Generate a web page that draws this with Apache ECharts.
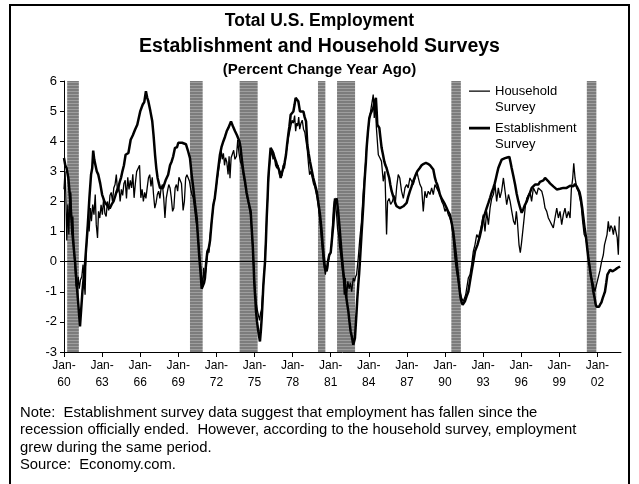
<!DOCTYPE html>
<html><head><meta charset="utf-8">
<script src="https://cdn.jsdelivr.net/npm/echarts@6/dist/echarts.min.js"></script>
<style>html,body{margin:0;padding:0;background:#fff}#c{width:639px;height:484px}</style>
</head><body><div id="c"></div>
<script>
// ---- data ----
const titleLines = ['Total U.S. Employment', 'Establishment and Household Surveys'];
const subtitle = '(Percent Change Year Ago)';
const noteLines = [
  'Note:  Establishment survey data suggest that employment has fallen since the',
  'recession officially ended.  However, according to the household survey, employment',
  'grew during the same period.',
  'Source:  Economy.com.'
];
const tickYears = [1960,1963,1966,1969,1972,1975,1978,1981,1984,1987,1990,1993,1996,1999,2002];
const yTicks = [-3,-2,-1,0,1,2,3,4,5,6];
const recessions = [[1960.25,1961.17],[1969.92,1970.92],[1973.83,1975.25],[1980.0,1980.58],[1981.5,1982.92],[1990.5,1991.25],[2001.17,2001.92]];
const seriesNames = ['Household', 'Establishment'];

const household = [
[1960.00,2.4],[1960.08,3.0],[1960.14,2.3],[1960.22,0.7],[1960.30,1.9],[1960.38,0.9],[1960.46,2.1],[1960.54,2.3],[1960.62,0.9],[1960.70,1.5],[1960.78,0.4],[1960.86,-0.1],[1960.95,-0.8],[1961.04,-0.9],[1961.12,-0.5],[1961.20,-0.9],[1961.30,-0.6],[1961.40,-0.5],[1961.50,-0.1],[1961.58,-0.6],[1961.66,-1.1],[1961.74,0.3],[1961.82,0.9],[1961.90,1.45],[1961.98,1.0],[1962.08,1.78],[1962.16,1.34],[1962.26,1.9],[1962.36,1.56],[1962.46,2.23],[1962.54,1.23],[1962.64,0.79],[1962.72,1.67],[1962.82,1.45],[1962.92,1.89],[1963.02,1.56],[1963.12,2.1],[1963.22,1.6],[1963.32,1.5],[1963.42,2.0],[1963.52,1.7],[1963.62,2.2],[1963.72,2.3],[1963.82,2.0],[1963.92,2.45],[1964.02,2.56],[1964.12,2.89],[1964.22,2.3],[1964.32,2.5],[1964.42,2.0],[1964.52,2.4],[1964.62,2.2],[1964.72,2.6],[1964.82,2.7],[1964.92,2.1],[1965.02,2.8],[1965.12,2.4],[1965.22,2.7],[1965.32,2.45],[1965.42,2.9],[1965.52,2.12],[1965.62,2.6],[1965.72,2.99],[1965.82,3.05],[1965.95,3.2],[1966.05,2.12],[1966.15,2.4],[1966.25,2.0],[1966.35,2.3],[1966.45,2.1],[1966.55,2.45],[1966.65,2.78],[1966.75,2.89],[1966.85,2.5],[1966.95,2.8],[1967.05,2.23],[1967.15,1.78],[1967.25,1.95],[1967.35,2.23],[1967.45,2.34],[1967.55,2.1],[1967.65,2.45],[1967.75,2.56],[1967.85,2.12],[1967.95,1.45],[1968.05,2.1],[1968.15,2.34],[1968.25,2.56],[1968.35,2.45],[1968.45,2.12],[1968.55,1.67],[1968.65,1.78],[1968.75,2.45],[1968.85,2.56],[1968.95,2.34],[1969.05,2.8],[1969.15,2.85],[1969.25,2.6],[1969.38,1.7],[1969.48,2.0],[1969.58,2.78],[1969.68,2.89],[1969.78,2.78],[1969.88,2.67],[1969.98,2.4],[1970.08,2.23],[1970.18,2.12],[1970.28,1.78],[1970.38,1.4],[1970.48,1.12],[1970.58,0.68],[1970.68,0.2],[1970.76,-0.17],[1970.84,-0.5],[1970.92,-0.83],[1971.00,-0.2],[1971.08,-0.6],[1971.16,-0.3],[1971.25,-0.28],[1971.34,0.39],[1971.42,0.3],[1971.52,0.9],[1971.62,1.3],[1971.72,1.7],[1971.82,2.0],[1971.92,2.3],[1972.02,2.6],[1972.12,2.9],[1972.22,3.2],[1972.30,3.38],[1972.38,3.71],[1972.46,3.4],[1972.55,3.6],[1972.64,3.2],[1972.72,3.45],[1972.82,3.3],[1972.92,2.9],[1973.00,3.5],[1973.07,2.77],[1973.16,3.45],[1973.26,3.4],[1973.36,3.7],[1973.46,3.4],[1973.58,3.5],[1973.68,4.04],[1973.78,3.6],[1973.90,3.3],[1974.00,3.2],[1974.12,2.9],[1974.25,2.6],[1974.38,2.2],[1974.50,2.0],[1974.62,1.7],[1974.72,1.5],[1974.80,0.9],[1974.88,0.3],[1974.96,-0.4],[1975.04,-0.9],[1975.12,-1.3],[1975.22,-1.6],[1975.32,-1.8],[1975.40,-1.95],[1975.48,-1.7],[1975.55,-1.6],[1975.62,-1.2],[1975.70,-0.8],[1975.78,-0.3],[1975.86,0.4],[1975.94,1.2],[1976.02,2.0],[1976.10,2.7],[1976.18,3.2],[1976.26,3.5],[1976.36,3.7],[1976.46,3.4],[1976.56,3.5],[1976.66,3.2],[1976.76,3.1],[1976.86,3.2],[1976.96,2.9],[1977.06,3.0],[1977.16,2.85],[1977.26,3.2],[1977.36,3.1],[1977.46,3.5],[1977.56,3.8],[1977.66,4.1],[1977.76,4.3],[1977.86,4.5],[1977.96,4.7],[1978.06,4.6],[1978.16,4.85],[1978.24,4.33],[1978.32,4.6],[1978.40,4.5],[1978.48,4.8],[1978.56,4.4],[1978.66,4.6],[1978.76,4.7],[1978.86,4.4],[1978.96,4.3],[1979.06,4.0],[1979.16,3.7],[1979.26,3.2],[1979.34,2.89],[1979.44,3.0],[1979.54,2.8],[1979.64,2.6],[1979.74,2.5],[1979.84,2.3],[1979.94,2.1],[1980.04,1.8],[1980.14,1.4],[1980.24,0.9],[1980.34,0.4],[1980.42,0.0],[1980.50,-0.2],[1980.58,-0.43],[1980.66,-0.15],[1980.74,-0.27],[1980.82,0.0],[1980.90,0.2],[1980.98,0.3],[1981.06,0.5],[1981.14,1.2],[1981.22,1.8],[1981.30,2.1],[1981.38,1.9],[1981.46,1.6],[1981.54,1.1],[1981.62,0.9],[1981.70,0.5],[1981.80,0.2],[1981.90,-0.2],[1981.99,-0.54],[1982.07,-1.1],[1982.15,-0.54],[1982.25,-1.2],[1982.35,-0.65],[1982.45,-0.9],[1982.55,-0.7],[1982.65,-1.0],[1982.78,-0.54],[1982.88,-0.65],[1982.96,-0.5],[1983.04,-0.43],[1983.17,0.12],[1983.30,0.79],[1983.42,1.3],[1983.55,2.2],[1983.70,2.99],[1983.83,3.78],[1983.96,4.44],[1984.08,4.83],[1984.22,4.88],[1984.35,5.55],[1984.43,4.77],[1984.51,5.33],[1984.60,4.44],[1984.75,3.55],[1984.88,3.44],[1985.00,3.33],[1985.14,2.67],[1985.27,3.0],[1985.40,0.9],[1985.48,2.0],[1985.60,2.1],[1985.72,1.9],[1985.86,2.0],[1985.98,2.2],[1986.10,2.0],[1986.20,2.5],[1986.32,2.89],[1986.44,2.78],[1986.58,2.34],[1986.72,2.1],[1986.85,2.45],[1986.98,2.56],[1987.10,2.45],[1987.24,2.78],[1987.38,2.67],[1987.50,2.56],[1987.64,2.78],[1987.78,3.0],[1987.90,2.78],[1988.03,2.56],[1988.16,2.45],[1988.29,1.67],[1988.42,2.34],[1988.55,2.12],[1988.68,2.34],[1988.82,2.23],[1988.95,2.45],[1989.08,2.23],[1989.21,2.56],[1989.34,2.45],[1989.47,2.34],[1989.60,2.23],[1989.74,2.0],[1989.87,1.89],[1990.00,1.67],[1990.13,1.78],[1990.26,1.56],[1990.39,1.45],[1990.52,1.27],[1990.65,0.79],[1990.78,0.12],[1990.90,-0.3],[1991.04,-0.65],[1991.18,-1.0],[1991.31,-1.21],[1991.44,-1.32],[1991.63,-1.1],[1991.84,-0.54],[1991.97,-0.43],[1992.10,-0.1],[1992.23,0.34],[1992.36,0.56],[1992.50,0.9],[1992.63,0.8],[1992.76,1.0],[1992.89,1.23],[1993.02,1.56],[1993.15,1.0],[1993.28,1.67],[1993.42,1.23],[1993.55,1.78],[1993.68,2.1],[1993.81,2.23],[1993.94,2.56],[1994.07,2.0],[1994.20,2.45],[1994.33,2.12],[1994.46,2.34],[1994.60,2.78],[1994.73,2.34],[1994.86,1.89],[1995.00,2.23],[1995.13,2.0],[1995.26,1.67],[1995.40,1.34],[1995.52,1.23],[1995.62,1.67],[1995.70,1.34],[1995.83,0.56],[1995.93,0.3],[1996.02,0.6],[1996.18,1.23],[1996.34,1.89],[1996.44,2.1],[1996.58,2.12],[1996.70,2.3],[1996.82,2.0],[1996.96,2.45],[1997.09,2.34],[1997.22,2.23],[1997.35,2.45],[1997.48,2.45],[1997.62,2.34],[1997.75,2.12],[1997.88,1.78],[1998.01,1.67],[1998.14,1.45],[1998.27,1.34],[1998.40,1.23],[1998.53,1.12],[1998.66,1.45],[1998.80,1.78],[1998.93,1.45],[1999.06,1.67],[1999.19,1.23],[1999.32,1.56],[1999.45,1.78],[1999.58,1.45],[1999.72,1.67],[1999.85,1.45],[1999.95,2.4],[2000.06,2.78],[2000.14,3.27],[2000.24,2.78],[2000.37,2.45],[2000.50,2.34],[2000.62,2.1],[2000.72,1.89],[2000.84,1.34],[2000.96,0.9],[2001.10,0.79],[2001.24,0.3],[2001.38,-0.1],[2001.52,-0.5],[2001.68,-0.76],[2001.80,-0.99],[2001.93,-0.76],[2002.06,-0.54],[2002.20,-0.3],[2002.33,0.0],[2002.47,0.23],[2002.56,0.56],[2002.66,0.5],[2002.76,0.9],[2002.86,1.34],[2002.96,1.0],[2003.06,1.2],[2003.16,1.12],[2003.26,0.9],[2003.36,1.2],[2003.46,1.0],[2003.56,0.8],[2003.65,0.23],[2003.73,1.5]
];

const establishment = [
[1960.00,3.44],[1960.10,3.2],[1960.20,3.11],[1960.34,2.78],[1960.50,2.0],[1960.65,1.0],[1960.78,0.4],[1960.87,0.0],[1961.00,-0.76],[1961.13,-1.43],[1961.26,-2.15],[1961.45,-0.99],[1961.65,-0.1],[1961.86,1.12],[1962.00,2.12],[1962.13,2.89],[1962.22,3.1],[1962.30,3.69],[1962.38,3.4],[1962.47,3.22],[1962.58,3.0],[1962.70,2.89],[1962.85,2.6],[1963.00,2.23],[1963.18,2.0],[1963.36,1.89],[1963.60,1.77],[1963.75,1.9],[1963.90,2.0],[1964.05,2.2],[1964.15,2.34],[1964.30,2.5],[1964.40,2.67],[1964.50,2.8],[1964.60,3.0],[1964.72,3.2],[1964.85,3.55],[1964.95,3.5],[1965.07,3.61],[1965.15,3.8],[1965.25,4.05],[1965.42,4.2],[1965.60,4.39],[1965.77,4.55],[1965.88,4.6],[1966.00,4.99],[1966.10,4.95],[1966.20,5.22],[1966.32,5.3],[1966.45,5.66],[1966.55,5.45],[1966.64,5.33],[1966.80,5.0],[1966.95,4.66],[1967.05,4.2],[1967.17,3.55],[1967.27,3.1],[1967.37,2.78],[1967.47,2.6],[1967.56,2.45],[1967.70,2.4],[1967.80,2.45],[1968.00,2.7],[1968.20,2.89],[1968.35,3.2],[1968.48,3.33],[1968.60,3.5],[1968.74,3.78],[1968.90,3.8],[1969.00,3.95],[1969.13,3.89],[1969.30,3.95],[1969.45,4.0],[1969.60,3.9],[1969.75,3.7],[1969.92,3.44],[1970.05,2.9],[1970.18,2.45],[1970.32,1.9],[1970.45,1.45],[1970.55,0.8],[1970.66,0.12],[1970.76,-0.4],[1970.84,-0.9],[1970.95,-0.85],[1971.03,-0.7],[1971.10,-0.54],[1971.20,0.0],[1971.29,0.34],[1971.40,0.45],[1971.50,0.7],[1971.62,1.3],[1971.76,1.89],[1971.87,2.1],[1971.97,2.45],[1972.06,2.8],[1972.15,3.11],[1972.28,3.55],[1972.40,3.8],[1972.55,4.0],[1972.68,4.15],[1972.81,4.33],[1972.95,4.45],[1973.05,4.5],[1973.15,4.66],[1973.30,4.5],[1973.47,4.33],[1973.62,4.2],[1973.81,4.0],[1973.90,3.8],[1973.99,3.44],[1974.12,3.0],[1974.25,2.67],[1974.38,2.3],[1974.52,2.0],[1974.60,1.85],[1974.70,1.67],[1974.78,1.1],[1974.86,0.56],[1974.93,-0.1],[1974.99,-0.76],[1975.06,-1.2],[1975.12,-1.65],[1975.20,-2.0],[1975.30,-2.31],[1975.43,-2.65],[1975.50,-2.3],[1975.57,-1.87],[1975.64,-1.3],[1975.70,-0.76],[1975.76,-0.4],[1975.83,0.0],[1975.90,0.7],[1975.96,1.45],[1976.03,2.1],[1976.09,2.78],[1976.18,3.3],[1976.27,3.78],[1976.38,3.7],[1976.48,3.61],[1976.58,3.45],[1976.69,3.33],[1976.78,3.2],[1976.87,3.11],[1976.97,3.0],[1977.06,2.78],[1977.16,2.95],[1977.27,3.11],[1977.38,3.3],[1977.48,3.55],[1977.57,3.9],[1977.66,4.22],[1977.75,4.5],[1977.85,4.88],[1977.95,4.9],[1978.06,4.99],[1978.15,5.2],[1978.24,5.44],[1978.35,5.4],[1978.45,5.33],[1978.52,5.15],[1978.58,4.99],[1978.72,5.0],[1978.85,4.99],[1978.95,4.8],[1979.06,4.66],[1979.16,3.89],[1979.26,3.6],[1979.37,3.33],[1979.50,3.05],[1979.63,2.78],[1979.77,2.55],[1979.90,2.34],[1980.03,1.95],[1980.16,1.56],[1980.27,1.1],[1980.37,0.56],[1980.46,0.15],[1980.55,-0.21],[1980.68,-0.32],[1980.78,0.0],[1980.89,0.23],[1981.00,0.3],[1981.08,0.29],[1981.20,1.2],[1981.34,2.0],[1981.47,2.1],[1981.58,1.7],[1981.68,1.23],[1981.78,0.7],[1981.87,0.23],[1981.99,-0.32],[1982.10,-0.7],[1982.20,-1.1],[1982.30,-1.4],[1982.39,-1.65],[1982.48,-2.0],[1982.57,-2.31],[1982.67,-2.5],[1982.78,-2.76],[1982.91,-2.54],[1983.04,-1.65],[1983.10,-1.2],[1983.17,-0.76],[1983.24,-0.4],[1983.30,0.0],[1983.37,0.5],[1983.44,1.0],[1983.50,1.4],[1983.57,1.89],[1983.63,2.4],[1983.70,2.89],[1983.77,3.3],[1983.83,3.78],[1983.93,4.3],[1984.04,4.77],[1984.13,4.9],[1984.22,4.99],[1984.35,5.1],[1984.45,5.3],[1984.56,5.44],[1984.62,5.0],[1984.67,4.55],[1984.75,4.5],[1984.83,4.44],[1984.92,4.1],[1985.01,3.78],[1985.12,3.55],[1985.22,3.33],[1985.31,3.2],[1985.40,3.11],[1985.50,2.95],[1985.61,2.78],[1985.70,2.55],[1985.80,2.34],[1985.90,2.2],[1985.98,2.12],[1986.08,1.95],[1986.19,1.84],[1986.32,1.8],[1986.45,1.78],[1986.58,1.8],[1986.72,1.84],[1986.85,1.9],[1986.98,1.95],[1987.10,2.15],[1987.24,2.34],[1987.37,2.5],[1987.50,2.67],[1987.66,2.85],[1987.82,3.0],[1988.00,3.1],[1988.16,3.2],[1988.33,3.25],[1988.50,3.28],[1988.66,3.25],[1988.82,3.2],[1988.95,3.15],[1989.08,3.06],[1989.21,2.78],[1989.30,2.65],[1989.39,2.56],[1989.50,2.4],[1989.60,2.23],[1989.73,2.1],[1989.87,2.0],[1990.00,1.9],[1990.13,1.78],[1990.26,1.65],[1990.39,1.56],[1990.52,1.3],[1990.65,1.0],[1990.76,0.6],[1990.86,0.23],[1990.95,-0.15],[1991.05,-0.54],[1991.14,-0.9],[1991.23,-1.21],[1991.31,-1.35],[1991.39,-1.43],[1991.48,-1.38],[1991.57,-1.32],[1991.70,-1.15],[1991.84,-0.99],[1991.97,-0.65],[1992.10,-0.32],[1992.23,0.0],[1992.36,0.34],[1992.55,0.55],[1992.75,0.85],[1992.88,1.1],[1993.02,1.45],[1993.15,1.6],[1993.28,1.78],[1993.42,1.95],[1993.55,2.12],[1993.68,2.3],[1993.81,2.45],[1993.92,2.6],[1994.02,2.78],[1994.11,2.95],[1994.20,3.11],[1994.33,3.25],[1994.47,3.39],[1994.60,3.42],[1994.73,3.44],[1994.90,3.46],[1995.07,3.48],[1995.16,3.3],[1995.25,3.11],[1995.38,2.85],[1995.52,2.56],[1995.65,2.25],[1995.78,2.0],[1995.91,1.8],[1996.04,1.62],[1996.17,1.75],[1996.30,1.89],[1996.44,2.0],[1996.57,2.17],[1996.70,2.3],[1996.83,2.45],[1996.96,2.5],[1997.09,2.56],[1997.22,2.6],[1997.35,2.56],[1997.48,2.65],[1997.62,2.61],[1997.75,2.7],[1997.88,2.78],[1998.01,2.72],[1998.14,2.67],[1998.27,2.6],[1998.40,2.56],[1998.53,2.5],[1998.67,2.45],[1998.80,2.4],[1998.93,2.36],[1999.06,2.42],[1999.19,2.47],[1999.32,2.45],[1999.45,2.5],[1999.58,2.45],[1999.72,2.5],[1999.85,2.52],[1999.98,2.56],[2000.11,2.5],[2000.24,2.58],[2000.37,2.5],[2000.50,2.45],[2000.60,2.3],[2000.69,2.12],[2000.80,1.8],[2000.90,1.45],[2001.00,1.1],[2001.11,0.79],[2001.20,0.45],[2001.29,0.12],[2001.38,-0.15],[2001.47,-0.43],[2001.58,-0.7],[2001.68,-0.99],[2001.78,-1.2],[2001.87,-1.43],[2001.95,-1.5],[2002.03,-1.54],[2002.12,-1.5],[2002.21,-1.43],[2002.32,-1.35],[2002.42,-1.21],[2002.51,-1.1],[2002.60,-0.99],[2002.70,-0.7],[2002.79,-0.43],[2002.90,-0.35],[2003.00,-0.27],[2003.10,-0.3],[2003.20,-0.32],[2003.30,-0.28],[2003.39,-0.27],[2003.48,-0.24],[2003.57,-0.21],[2003.68,-0.2],[2003.78,-0.16]
];

// ---- chart ----
const FONT = 'Arial, "Liberation Sans", Helvetica, sans-serif';
function hatch() {
  const c = document.createElement('canvas');
  c.width = 4; c.height = 3;
  const g = c.getContext('2d');
  g.fillStyle = '#7c7c7c'; g.fillRect(0, 0, 4, 3);
  g.fillStyle = '#9e9e9e'; g.fillRect(0, 1, 4, 1);
  return c;
}
// legend icons: a line sample placed level with the first of the two text lines
const thinIcon = 'path://M0,7.5H21V8.8H0Z M0,0H0.01V0.01H0Z M0,32H0.01V31.99H0Z';
const thickIcon = 'path://M0,6.8H21V9.6H0Z M0,0H0.01V0.01H0Z M0,32H0.01V31.99H0Z';
const chart = echarts.init(document.getElementById('c'), null, {renderer: 'canvas'});
chart.setOption({
  animation: false,
  backgroundColor: '#fff',
  textStyle: {fontFamily: FONT},
  title: [
    {text: '{a|' + titleLines[0] + '}\n{b|' + titleLines[1] + '}', left: 'center', top: 4,
     textStyle: {rich: {
       a: {fontFamily: FONT, fontSize: 17.5, fontWeight: 'bold', color: '#000', lineHeight: 25},
       b: {fontFamily: FONT, fontSize: 19.5, fontWeight: 'bold', color: '#000', lineHeight: 25}}}},
    {text: subtitle, left: 'center', top: 57,
     textStyle: {fontFamily: FONT, fontSize: 15, fontWeight: 'bold', color: '#000'}}
  ],
  legend: {
    orient: 'vertical', left: 464, top: 78, itemWidth: 21, itemHeight: 32, itemGap: 5,
    selectedMode: false,
    data: [{name: seriesNames[0], icon: thinIcon}, {name: seriesNames[1], icon: thickIcon}],
    textStyle: {fontFamily: FONT, fontSize: 13, color: '#000', lineHeight: 16},
    formatter: n => n + '\nSurvey'
  },
  grid: {left: 64, right: 18, top: 81, bottom: 132},
  xAxis: {
    type: 'value', min: 1960, max: 2003.86,
    axisLine: {onZero: false, lineStyle: {color: '#000', width: 1}},
    axisTick: {length: 5, lineStyle: {color: '#000'}, customValues: tickYears},
    axisLabel: {customValues: tickYears, color: '#000', fontFamily: FONT, fontSize: 12, lineHeight: 17, margin: 5,
      formatter: v => 'Jan-\n' + String(Math.round(v) % 100).padStart(2, '0')},
    splitLine: {show: false}
  },
  yAxis: {
    type: 'value', min: yTicks[0], max: yTicks[yTicks.length - 1], interval: 1,
    axisLine: {show: true, lineStyle: {color: '#000', width: 1}},
    axisTick: {show: true, length: 4, lineStyle: {color: '#000'}},
    axisLabel: {color: '#000', fontFamily: FONT, fontSize: 13, margin: 7},
    splitLine: {show: false}
  },
  series: [
    {
      name: seriesNames[0], type: 'line', data: household, symbol: 'none', z: 3,
      lineStyle: {color: '#000', width: 1.3}, itemStyle: {color: '#000'},
      markArea: {silent: true, itemStyle: {color: {image: hatch(), repeat: 'repeat'}},
        data: recessions.map(r => [{xAxis: r[0]}, {xAxis: r[1]}])},
      markLine: {silent: true, symbol: ['none', 'none'], label: {show: false},
        lineStyle: {color: '#000', width: 1, type: 'solid'}, data: [{yAxis: 0}]}
    },
    {
      name: seriesNames[1], type: 'line', data: establishment, symbol: 'none', z: 4,
      lineStyle: {color: '#000', width: 2.5}, itemStyle: {color: '#000'}
    }
  ],
  graphic: [
    {type: 'rect', silent: true, shape: {x: 10, y: 5, width: 619, height: 495},
     style: {fill: 'none', stroke: '#000', lineWidth: 2}},
    {type: 'text', left: 20, top: 404, silent: true,
     style: {text: noteLines.join('\n'), font: '14.8px ' + FONT, fill: '#000', lineHeight: 17.5}}
  ]
});
</script>
</body></html>
